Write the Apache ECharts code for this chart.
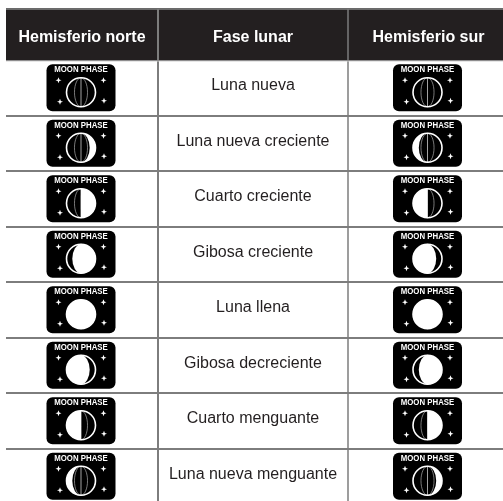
<!DOCTYPE html>
<html>
<head>
<meta charset="utf-8">
<style>
  html, body { margin: 0; padding: 0; background: #fff; }
  #chart { width: 503px; height: 501px; }
</style>
<script src="https://cdn.jsdelivr.net/npm/echarts@6/dist/echarts.min.js"></script>
</head>
<body>
<div id="chart"></div>
<script>
var headers = ["Hemisferio norte", "Fase lunar", "Hemisferio sur"];
var phaseNames = [
  "Luna nueva",
  "Luna nueva creciente",
  "Cuarto creciente",
  "Gibosa creciente",
  "Luna llena",
  "Gibosa decreciente",
  "Cuarto menguante",
  "Luna nueva menguante",
];
// lit fraction of the moon, positive = lit on the right
var northLit = [0, 0.2, 0.5, 0.8, 1, -0.8, -0.5, -0.2];
var southLit = [0, -0.2, -0.5, -0.8, 1, 0.8, 0.5, 0.2];

var FONT = '"Liberation Sans", Arial, sans-serif';
var LINE = "#7d7d7d";
var DARK = "#231f20";
var columns = [
  { left: 6, width: 152 },
  { left: 158, width: 190 },
  { left: 348, width: 161 }, // runs a little past the window, as in the source
];

function litPath(cx, cy, r, p) {
  var f = Math.abs(p);
  var rx = Math.max(r * Math.abs(1 - 2 * f), 0.1);
  var right = p > 0;
  var outer = right ? 1 : 0;
  var inner = f < 0.5 ? (right ? 0 : 1) : right ? 1 : 0;
  return (
    "M" + cx + " " + (cy - r) +
    "A" + r + " " + r + " 0 0 " + outer + " " + cx + " " + (cy + r) +
    "A" + rx + " " + r + " 0 0 " + inner + " " + cx + " " + (cy - r) + "Z"
  );
}

function star(x, y) {
  var pts = [];
  for (var i = 0; i < 8; i++) {
    var a = (i * Math.PI) / 4;
    var d = i % 2 ? 1.2 : 3;
    pts.push([x + d * Math.sin(a), y - d * Math.cos(a)]);
  }
  return { type: "polygon", shape: { points: pts }, style: { fill: "#fff" } };
}

function renderIcon(params, api) {
  var c = api.coord([api.value(0), api.value(1)]);
  var cx = c[0] - 1;
  var cy = c[1];
  var p = api.value(2);
  var my = cy + 4.5;
  var r = 14.5;
  var kids = [
    {
      type: "rect",
      shape: { x: cx - 34.5, y: cy - 23.5, width: 69, height: 47, r: 6 },
      style: { fill: "#000" },
    },
    {
      type: "text",
      x: cx,
      y: cy - 18,
      scaleX: 0.87,
      style: {
        text: "MOON PHASE",
        fill: "#fff",
        font: "bold 9px " + FONT,
        align: "center",
        verticalAlign: "middle",
      },
    },
    star(cx - 22.5, cy - 7.5),
    star(cx + 22.5, cy - 7.5),
    star(cx - 21, cy + 14),
    star(cx + 23, cy + 13),
    {
      type: "ellipse",
      shape: { cx: cx, cy: my, rx: r * 0.45, ry: r },
      style: { fill: null, stroke: "#aaa", lineWidth: 0.7 },
    },
    {
      type: "line",
      shape: { x1: cx, y1: my - r, x2: cx, y2: my + r },
      style: { stroke: "#ccc", lineWidth: 0.8 },
    },
  ];
  if (p !== 0) {
    kids.push({
      type: "path",
      shape: { pathData: litPath(cx, my, r, p) },
      style: { fill: "#fff" },
    });
  }
  kids.push({
    type: "circle",
    shape: { cx: cx, cy: my, r: r },
    style: { fill: null, stroke: "#fff", lineWidth: 1.6 },
  });
  return { type: "group", children: kids };
}

function renderName(params, api) {
  var c = api.coord([api.value(0), api.value(1)]);
  return {
    type: "text",
    style: {
      x: c[0],
      y: c[1] - 2,
      text: phaseNames[params.dataIndex],
      fill: "#231f20",
      font: "16px " + FONT,
      align: "center",
      verticalAlign: "middle",
    },
  };
}

var chart = echarts.init(document.getElementById("chart"));
chart.setOption({
  animation: false,
  backgroundColor: "#fff",
  grid: columns.map(function (col) {
    return {
      left: col.left,
      width: col.width,
      top: 60,
      height: 444,
      outerBoundsMode: "none",
    };
  }),
  xAxis: columns.map(function (col, i) {
    return {
      type: "category",
      gridIndex: i,
      position: "top",
      z: 5,
      data: [headers[i]],
      axisLine: { show: false },
      axisTick: { show: false },
      axisLabel: {
        margin: 14,
        color: "#fff",
        fontFamily: FONT,
        fontWeight: "bold",
        fontSize: 16,
      },
    };
  }),
  yAxis: columns.map(function (col, i) {
    return {
      type: "category",
      gridIndex: i,
      inverse: true,
      data: phaseNames,
      axisLabel: { show: false },
      axisTick: { show: false },
      axisLine: { show: i > 0, lineStyle: { color: LINE, width: i === 1 ? 2 : 1.5 } },
      splitLine: { show: true, interval: 0, lineStyle: { color: LINE, width: 2 } },
    };
  }),
  graphic: [
    {
      type: "rect",
      z: 1,
      shape: { x: 6, y: 10, width: 497, height: 50.5 },
      style: { fill: DARK },
    },
    {
      type: "line",
      z: 1,
      shape: { x1: 6, y1: 9, x2: 503, y2: 9 },
      style: { stroke: "#6b6b6b", lineWidth: 2 },
    },
    {
      type: "line",
      z: 1,
      shape: { x1: 6, y1: 61, x2: 503, y2: 61 },
      style: { stroke: "#cfcfcf", lineWidth: 1 },
    },
    {
      type: "line",
      z: 2,
      shape: { x1: 158, y1: 9, x2: 158, y2: 60 },
      style: { stroke: LINE, lineWidth: 2 },
    },
    {
      type: "line",
      z: 2,
      shape: { x1: 348, y1: 9, x2: 348, y2: 60 },
      style: { stroke: LINE, lineWidth: 1.5 },
    },
  ],
  series: [
    {
      type: "custom",
      xAxisIndex: 0,
      yAxisIndex: 0,
      renderItem: renderIcon,
      clip: false,
      data: northLit.map(function (v, i) {
        return [0, i, v];
      }),
    },
    {
      type: "custom",
      xAxisIndex: 1,
      yAxisIndex: 1,
      renderItem: renderName,
      clip: false,
      data: phaseNames.map(function (v, i) {
        return [0, i];
      }),
    },
    {
      type: "custom",
      xAxisIndex: 2,
      yAxisIndex: 2,
      renderItem: renderIcon,
      clip: false,
      data: southLit.map(function (v, i) {
        return [0, i, v];
      }),
    },
  ],
});
</script>
</body>
</html>
